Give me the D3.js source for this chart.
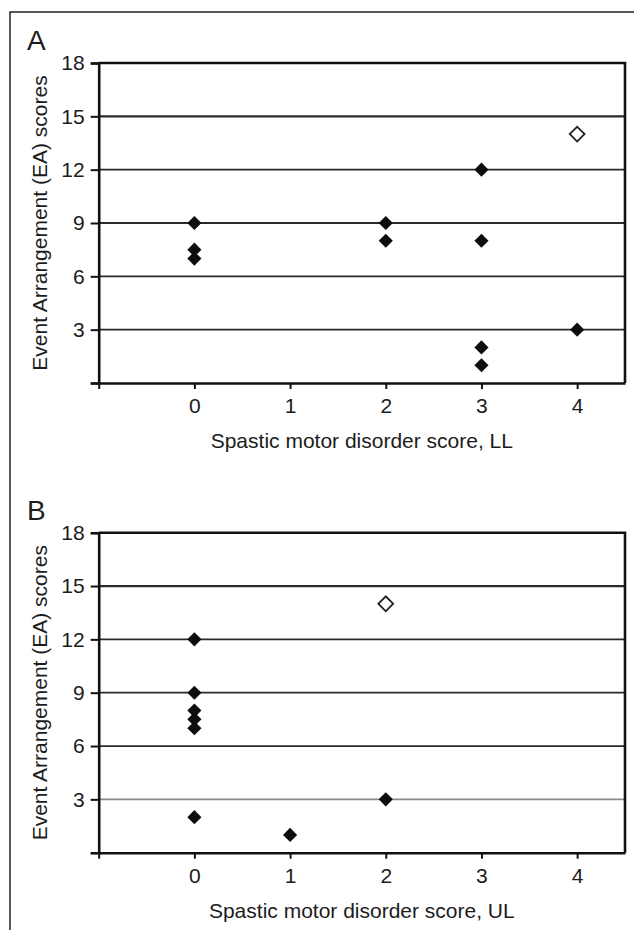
<!DOCTYPE html>
<html>
<head>
<meta charset="utf-8">
<script src="https://cdn.jsdelivr.net/npm/d3@7"></script>
<style>
  html, body { margin: 0; padding: 0; background: #fff; }
  svg { display: block; }
  text { font-family: "Liberation Sans", Arial, sans-serif; fill: #1c1c1c; }
</style>
</head>
<body>
<script>
// ---------- data ----------
const panelLetters = ["A", "B"];
const xAxisTitles = ["Spastic motor disorder score, LL", "Spastic motor disorder score, UL"];
const yAxisTitle = "Event Arrangement (EA) scores";
const xTickValues = [-1, 0, 1, 2, 3, 4];
const xTickLabels = ["", "0", "1", "2", "3", "4"];
const yTickValues = [0, 3, 6, 9, 12, 15, 18];
const yTickLabels = ["", "3", "6", "9", "12", "15", "18"];
const gridValues = [3, 6, 9, 12, 15];

// Panel A (lower limbs)
const llScore = [0, 0, 0, 2, 2, 3, 3, 3, 3, 4];
const llEA    = [9, 7.5, 7, 9, 8, 12, 8, 2, 1, 3];
const llOpenScore = [4];
const llOpenEA    = [14];

// Panel B (upper limbs)
const ulScore = [0, 0, 0, 0, 0, 0, 1, 2];
const ulEA    = [12, 9, 8, 7.5, 7, 2, 1, 3];
const ulOpenScore = [2];
const ulOpenEA    = [14];

const panels = [
  { letter: panelLetters[0], xTitle: xAxisTitles[0], filled: llScore.map((s, i) => ({ x: s, y: llEA[i] })),
    open: llOpenScore.map((s, i) => ({ x: s, y: llOpenEA[i] })), top: 63 },
  { letter: panelLetters[1], xTitle: xAxisTitles[1], filled: ulScore.map((s, i) => ({ x: s, y: ulEA[i] })),
    open: ulOpenScore.map((s, i) => ({ x: s, y: ulOpenEA[i] })), top: 532.7 }
];

// ---------- drawing ----------
const W = 634, H = 930;
const svg = d3.select("body").append("svg").attr("width", W).attr("height", H);

// outer frame (left & top visible)
svg.append("rect").attr("x", 10).attr("y", 12).attr("width", 700).attr("height", 1000)
  .attr("fill", "none").attr("stroke", "#222").attr("stroke-width", 1.5);

const left = 98.7, right = 625, plotH = 320;
const x = d3.scaleLinear().domain([-1, 4.5]).range([left, right]);

panels.forEach((p, pi) => {
  const y = d3.scaleLinear().domain([0, 18]).range([p.top + plotH, p.top]);
  const g = svg.append("g");

  // panel letter
  g.append("text").attr("x", 27).attr("y", p.top - 13).attr("font-size", 28).text(p.letter);

  // gridlines
  g.selectAll(".grid").data(gridValues).join("line")
    .attr("x1", left).attr("x2", right)
    .attr("y1", d => y(d)).attr("y2", d => y(d))
    .attr("stroke", d => (pi === 1 && d === 3) ? "#8a8a8a" : "#2a2a2a")
    .attr("stroke-width", d => d === 15 ? 2.2 : 1.8);

  // top and right border
  g.append("path")
    .attr("d", `M${left},${y(18)}H${right}V${y(0)}`)
    .attr("fill", "none").attr("stroke", "#111").attr("stroke-width", 2.6);

  // y axis
  const yAxis = d3.axisLeft(y).tickValues(yTickValues)
    .tickFormat((d, i) => yTickLabels[i]).tickSize(8).tickPadding(6);
  const ya = g.append("g").attr("transform", `translate(${left},0)`).call(yAxis);
  ya.select(".domain").attr("stroke", "#111").attr("stroke-width", 2.6);
  ya.selectAll(".tick line").attr("stroke", "#111").attr("stroke-width", 2);
  ya.selectAll(".tick text").attr("font-size", 21).attr("fill", "#1c1c1c")
    .attr("font-family", "Liberation Sans, Arial, sans-serif");

  // x axis
  const xAxis = d3.axisBottom(x).tickValues(xTickValues)
    .tickFormat((d, i) => xTickLabels[i]).tickSize(6).tickSizeOuter(0).tickPadding(9);
  const xa = g.append("g").attr("transform", `translate(0,${y(0)})`).call(xAxis);
  xa.select(".domain").attr("stroke", "#111").attr("stroke-width", 2.6);
  xa.selectAll(".tick line").attr("stroke", "#111").attr("stroke-width", 2);
  xa.selectAll(".tick text").attr("font-size", 21).attr("fill", "#1c1c1c")
    .attr("font-family", "Liberation Sans, Arial, sans-serif");

  // axis titles
  g.append("text").attr("x", (left + right) / 2).attr("y", y(0) + 65)
    .attr("text-anchor", "middle").attr("font-size", 21).text(p.xTitle);
  g.append("text")
    .attr("transform", `translate(47,${(y(0) + y(18)) / 2}) rotate(-90)`)
    .attr("text-anchor", "middle").attr("font-size", 21).text(yAxisTitle);

  // points
  const filledSym = d3.symbol().type(d3.symbolSquare).size(100);
  const openSym = d3.symbol().type(d3.symbolSquare).size(110);
  g.selectAll(".pt").data(p.filled).join("path")
    .attr("d", filledSym)
    .attr("transform", d => `translate(${x(d.x)},${y(d.y)}) rotate(45)`)
    .attr("fill", "#0d0d0d");
  g.selectAll(".opt").data(p.open).join("path")
    .attr("d", openSym)
    .attr("transform", d => `translate(${x(d.x)},${y(d.y)}) rotate(45)`)
    .attr("fill", "#fff").attr("stroke", "#222").attr("stroke-width", 1.8);
});
</script>
</body>
</html>
